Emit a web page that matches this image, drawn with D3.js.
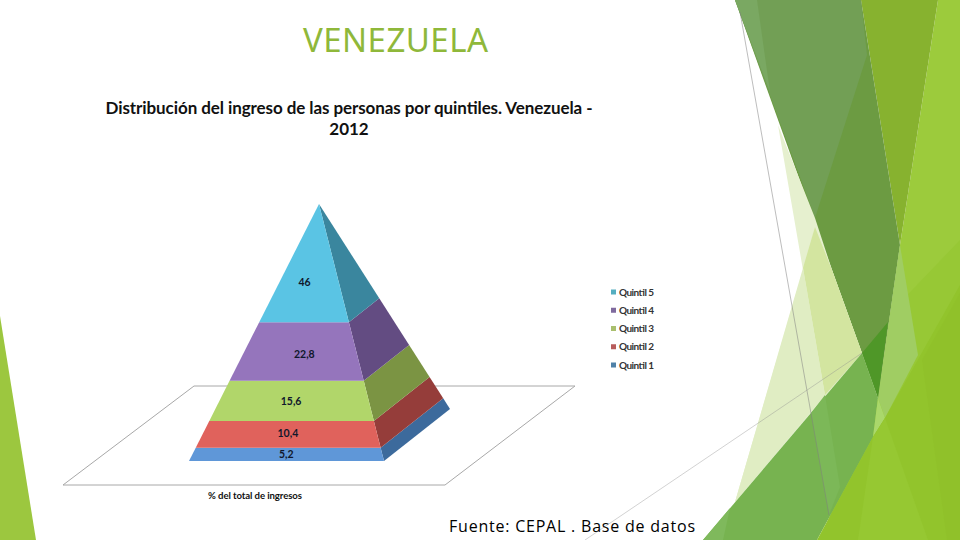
<!DOCTYPE html>
<html><head><meta charset="utf-8">
<script src="https://cdn.jsdelivr.net/npm/d3@7/dist/d3.min.js"></script>
<style>html,body{margin:0;padding:0;background:#fff}svg{display:block}</style></head>
<body><svg id="c" width="960" height="540"></svg>
<script>
const quintiles = ["Quintil 1","Quintil 2","Quintil 3","Quintil 4","Quintil 5"];
const shares = [5.2,10.4,15.6,22.8,46];
const shareLabels = ["5,2","10,4","15,6","22,8","46"];
const frontColors = ["#5f97d8","#e0625c","#b1d66a","#9575bc","#5ac4e4"];
const sideColors = ["#3c6a9c","#953d3a","#7b9443","#634c82","#3a869e"];
const legendColors = ["#4f81a8","#b85c5c","#a9bf6e","#7f6a9e","#55aec0"];
const chartTitleLines = ["Distribución del ingreso de las personas por quintiles. Venezuela -","2012"];
const axisTitle = "% del total de ingresos";
const slideTitle = "VENEZUELA";
const sourceNote = "Fuente: CEPAL . Base de datos";

const svg = d3.select("#c");
const line = d3.line();
const bg = [
 {c:"#9cc73f",p:[[0,316],[36,540],[0,540]]},
 {c:"#9ccb3c",p:[[938,0],[960,0],[960,540],[820,540],[878,398],[900,245]]},
 {c:"#97c835",p:[[960,240],[893,310],[873,437],[960,300]]},
 {c:"#87b22f",p:[[861,0],[938,0],[900,245]]},
 {c:"#6c9b42",p:[[735,0],[861,0],[900,245],[878,398]]},
 {c:"#729f55",p:[[735,0],[861,0],[867,55],[815,218]]},
 {c:"#7aa862",p:[[735,0],[757,0],[770,92]]},
 {c:"#e6f0cf",p:[[778,125],[815,218],[832,270],[862,353],[735,502],[803,270]]},
 {c:"#d3e5a0",p:[[815,227],[832,270],[862,353],[825,395],[803,268]]},
 {c:"#e0edc3",p:[[803,268],[825,395],[735,502]]},
 {c:"#a0cd63",p:[[900,245],[918,355],[885,418],[878,398]]},
 {c:"#4f9728",p:[[862,353],[888,322],[878,398]]},
 {c:"#77b350",p:[[703,540],[862,353],[878,398],[873,437],[817,540]]},
 {c:"#7cb858",p:[[811,413],[825,395],[840,487],[829,515]]},
 {c:"#7fb95c",p:[[703,540],[730,508],[723,540]]},
 {c:"#aad86b",p:[[878,398],[873,437],[885,418]]},
 {c:"#92c42c",p:[[817,540],[873,437],[885,418],[960,285],[960,540]]},
 {c:"#96c832",p:[[858,540],[873,437],[885,418],[928,540]]},
 {c:"#90c12a",p:[[922,360],[960,293],[960,540],[947,540]]}
];
const gBg = svg.append("g");
bg.forEach(d=>gBg.append("path").attr("d",line(d.p)+"Z").attr("fill",d.c));

svg.append("path").attr("d",line([[740,12],[829,515]])).attr("stroke","#7f7f7f").attr("stroke-opacity",0.65).attr("stroke-width",0.8).attr("fill","none");
svg.append("path").attr("d",line([[585,540],[862,353]])).attr("stroke","#8f8f8f").attr("stroke-opacity",0.5).attr("stroke-width",0.8).attr("fill","none");

svg.append("path").attr("d",line([[194,386],[575,386],[445,485],[63,485]])+"Z")
  .attr("fill","#fff").attr("stroke","#a8a8a8").attr("stroke-width",1);

// pyramid: height scale over cumulative share
const y = d3.scaleLinear().domain([0,100]).range([461,204]);
const xL = d3.scaleLinear().domain([0,100]).range([189,319]);
const xR = d3.scaleLinear().domain([0,100]).range([384,319]);
const xB = d3.scaleLinear().domain([0,100]).range([450,319]);
const yB = d3.scaleLinear().domain([0,100]).range([409,204]);
const nudgeX = [-1,-2,-3,4,-7], nudgeY = [0.5,0,1,4,20];
let cum = 0;
const gP = svg.append("g");
shares.forEach((v,i)=>{
  const a=cum,b=cum+v; cum=b;
  gP.append("path").attr("d",line([[xR(a),y(a)],[xB(a),yB(a)],[xB(b),yB(b)],[xR(b),y(b)]])+"Z").attr("fill",sideColors[i]);
  gP.append("path").attr("d",line([[xL(a),y(a)],[xR(a),y(a)],[xR(b),y(b)],[xL(b),y(b)]])+"Z").attr("fill",frontColors[i]);
  const mid=(a+b)/2;
  gP.append("text").text(shareLabels[i]).attr("x",(xL(mid)+xR(mid))/2+nudgeX[i]).attr("y",y(mid)+nudgeY[i])
    .attr("text-anchor","middle").attr("dominant-baseline","middle")
    .attr("font-family","Lato").attr("font-size",10.5).attr("font-weight","bold").attr("fill","#10182c");
});

const t = svg.append("g").attr("font-family","Lato").attr("font-weight","bold").attr("fill","#111");
t.append("text").text(chartTitleLines[0]).attr("x",349).attr("y",114).attr("text-anchor","middle").attr("font-size",17).attr("textLength",487);
t.append("text").text(chartTitleLines[1]).attr("x",349).attr("y",135).attr("text-anchor","middle").attr("font-size",17);
t.append("text").text(axisTitle).attr("x",255).attr("y",499).attr("text-anchor","middle").attr("font-size",9.6).attr("textLength",94);

const ly = d3.scalePoint().domain(quintiles.slice().reverse()).range([292,365]);
const gL = svg.append("g");
quintiles.forEach((q,i)=>{
  gL.append("rect").attr("x",611).attr("y",ly(q)-2.5).attr("width",5).attr("height",5).attr("fill",legendColors[i]);
  gL.append("text").text(q).attr("x",619).attr("y",ly(q)+3.5).attr("font-family","Lato").attr("font-weight","bold").attr("font-size",10).attr("fill","#333").attr("textLength",35);
});

svg.append("text").text(slideTitle).attr("x",303).attr("y",52).attr("font-family","Noto Sans").attr("font-size",33).attr("fill","#8fb83a").attr("textLength",185);
svg.append("text").text(sourceNote).attr("x",449).attr("y",532).attr("font-family","Open Sans").attr("font-weight",500).attr("font-size",16).attr("fill","#000").attr("textLength",246);
</script></body></html>
